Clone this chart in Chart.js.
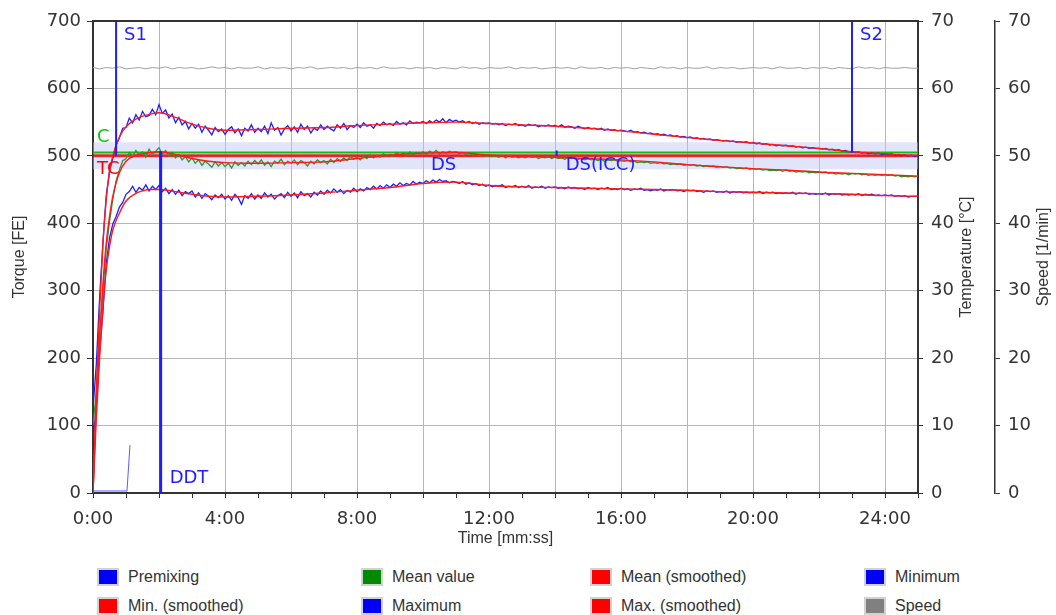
<!DOCTYPE html>
<html>
<head>
<meta charset="utf-8">
<title>Torque / time</title>
<script src="https://cdn.jsdelivr.net/npm/chart.js@4/dist/chart.umd.min.js"></script>
<style>
  body { margin: 0; background: #fff; }
  #wrap { position: relative; width: 1056px; height: 615px; overflow: hidden; }
  #torqueChart { position: absolute; left: 0; top: 0; }
  .legend-item {
    position: absolute; display: flex; align-items: center; height: 18px;
    font: 16px "Liberation Sans", Arial, sans-serif; color: #333; white-space: nowrap;
  }
  .legend-item .box { width: 18px; height: 14px; border: 2px solid #d2d2d2; margin-right: 9px; }
</style>
</head>
<body>
<div id="wrap">
  <canvas id="torqueChart" width="1056" height="555"></canvas>
  <div id="legend"></div>
</div>
<script>
// raw channels are sampled every 0.1 min, speed every 0.2 min
const rawStep = 0.1;
const speedStep = 0.2;

const maxRaw = [
  125, 190, 290, 370, 440, 478, 496, 516, 527, 541,
  542, 556, 549, 561, 553, 566, 558, 560, 569, 561,
  576, 563, 568, 556, 562, 549, 557, 546, 551, 540,
  548, 541, 547, 535, 544, 538, 531, 542, 536, 540,
  532, 539, 543, 534, 540, 530, 541, 537, 546, 535,
  541, 536, 544, 533, 549, 538, 542, 531, 540, 545,
  537, 543, 535, 547, 539, 544, 534, 541, 538, 546,
  539, 544, 540, 537, 546, 541, 548, 539, 545, 542,
  547, 542, 549, 544, 546, 541, 548, 545, 550, 546,
  548, 545, 551, 547, 549, 546, 552, 548, 550, 549,
  551, 548, 552, 549, 553, 550, 555, 549, 554, 551,
  553, 550, 552, 549, 551, 548, 550, 547, 549, 548,
  549, 547, 548, 546, 548, 545, 547, 546, 548, 545,
  546, 544, 547, 545, 546, 543, 545, 544, 546, 544,
  545, 543, 546, 542, 544, 543, 541, 544, 542, 540,
  542, 540, 541, 539, 541, 538, 540, 538, 539, 537,
  538, 537, 536, 538, 535, 536, 534, 535, 533, 534,
  532, 533, 531, 532, 530, 531, 529, 530, 528, 529,
  527, 528, 526, 527, 525, 526, 524, 525, 523, 524,
  523, 522, 523, 521, 522, 520, 521, 520, 521, 519,
  520, 518, 519, 517, 518, 516, 517, 515, 516, 515,
  516, 514, 515, 513, 514, 512, 513, 511, 512, 511,
  511, 510, 511, 509, 510, 508, 509, 507, 508, 506,
  506, 505, 506, 504, 505, 503, 504, 503, 504, 502,
  503, 502, 503, 501, 502, 500, 501, 500, 501, 499,
  500
];

const meanRaw = [
  100, 150, 230, 300, 362, 402, 436, 463, 479, 493,
  496, 505, 499, 508, 501, 506, 498, 510, 502, 507,
  512, 503, 508, 500, 505, 497, 502, 494, 499, 491,
  497, 489, 494, 486, 492, 488, 483, 491, 485, 490,
  484, 489, 482, 491, 486, 490, 485, 492, 487, 493,
  488, 494, 486, 491, 484, 492, 489, 495, 487, 492,
  489, 494, 487, 493, 490, 485, 492, 488, 494, 490,
  493, 488, 495, 490, 496, 492, 497, 493, 499, 495,
  498, 494, 500, 496, 502, 497, 501, 498, 503, 500,
  502, 499, 505, 501, 504, 500, 506, 502, 505, 503,
  506, 502, 507, 504, 508, 503, 506, 504, 507, 505,
  506, 503, 505, 502, 504, 501, 503, 500, 502, 499,
  501, 499, 500, 498, 501, 497, 500, 498, 499, 497,
  499, 497, 500, 498, 499, 496, 498, 497, 499, 496,
  498, 496, 497, 495, 498, 496, 497, 495, 496, 494,
  496, 494, 495, 493, 495, 492, 494, 493, 494, 492,
  493, 492, 493, 491, 492, 490, 491, 490, 491, 489,
  490, 489, 490, 488, 489, 487, 488, 487, 488, 486,
  487, 486, 487, 485, 486, 484, 485, 484, 485, 483,
  484, 483, 484, 482, 483, 481, 482, 481, 482, 480,
  481, 480, 481, 479, 480, 478, 479, 478, 479, 477,
  479, 477, 478, 476, 477, 476, 477, 475, 476, 475,
  476, 475, 476, 474, 475, 473, 474, 473, 474, 472,
  474, 473, 474, 472, 473, 471, 472, 471, 472, 471,
  472, 471, 472, 470, 471, 469, 470, 469, 470, 469,
  470
];

const minRaw = [
  75, 130, 210, 268, 340, 378, 399, 410, 424, 431,
  443, 447, 455, 446, 453, 449, 457, 448, 455, 450,
  456, 447, 452, 444, 450, 443, 449, 441, 447, 444,
  448, 439, 445, 437, 444, 440, 435, 442, 438, 443,
  436, 441, 434, 443, 438, 428, 441, 437, 444, 436,
  442, 437, 445, 439, 443, 436, 441, 444, 438, 446,
  440, 445, 438, 447, 441, 444, 439, 446, 442, 448,
  443, 449, 445, 451, 446, 450, 444, 449, 446, 452,
  447, 451, 448, 453, 450, 455, 451, 456, 452, 457,
  453, 458, 455, 460, 456, 459, 457, 462, 458, 461,
  459, 463, 460, 464, 461, 465, 462, 463, 460, 462,
  461, 459, 462, 458, 460, 457, 459, 456, 458, 455,
  457, 454, 456, 455, 457, 453, 455, 454, 456, 453,
  455, 453, 456, 452, 454, 453, 455, 452, 454, 453,
  454, 452, 453, 451, 454, 452, 453, 451, 452, 450,
  453, 451, 452, 450, 452, 451, 453, 450, 451, 450,
  452, 450, 451, 449, 451, 450, 452, 449, 450, 448,
  450, 449, 451, 448, 450, 449, 450, 448, 449, 447,
  449, 448, 449, 447, 448, 446, 448, 447, 448, 446,
  447, 446, 448, 445, 447, 446, 447, 445, 446, 445,
  446, 445, 447, 444, 446, 445, 446, 444, 445, 444,
  445, 444, 446, 443, 445, 444, 445, 443, 444, 443,
  444, 443, 445, 442, 444, 443, 444, 442, 443, 442,
  443, 442, 444, 441, 443, 442, 443, 441, 442, 441,
  442, 441, 442, 440, 441, 440, 441, 439, 440, 440,
  440
];

// smoothed curves
const smoothTimes = [0, 0.1, 0.2, 0.3, 0.4, 0.5, 0.6, 0.8, 1, 1.25, 1.5, 1.75, 2, 2.5, 3, 3.5,
  4, 5, 6, 7, 8, 9, 10, 11, 12, 13, 14, 15, 16, 17, 18, 19, 20, 21, 22, 23, 24, 25];
const maxSmooth = [0, 150, 270, 370, 435, 475, 500, 528, 543, 553, 559, 562, 564, 557, 547, 541,
  538, 539, 541, 542, 545, 547, 549, 550, 548, 546, 544, 541, 537, 532, 527, 523, 519, 515, 511, 506, 503, 500];
const meanSmooth = [0, 130, 230, 310, 370, 410, 440, 475, 492, 500, 503, 505, 506, 502, 496, 492,
  490, 489, 490, 491, 496, 501, 504, 505, 501, 499, 498, 496, 494, 491, 487, 484, 481, 479, 476, 474, 472, 470];
const minSmooth = [0, 110, 200, 275, 330, 365, 390, 415, 433, 443, 448, 450, 450, 447, 443, 440,
  439, 440, 442, 445, 449, 453, 459, 461, 456, 454, 453, 452, 451, 450, 449, 447, 446, 445, 444, 443, 441, 440];

const premixTimes = [0, 1.03, 1.12];
const premixTorque = [3, 3, 71];

const speedRaw = [
  63.1, 62.9, 63.1, 63.0, 63.2, 62.9, 63.0, 63.1, 62.9, 63.1,
  63.0, 63.2, 62.9, 63.1, 63.0, 63.1, 62.9, 63.0, 63.2, 63.0,
  63.1, 62.9, 63.1, 63.0, 63.0, 63.2, 62.9, 63.1, 63.0, 63.1,
  62.9, 63.1, 63.0, 63.2, 62.9, 63.0, 63.1, 63.0, 63.1, 62.9,
  63.1, 63.0, 63.1, 62.9, 63.2, 63.0, 63.0, 63.1, 62.9, 63.1,
  63.0, 63.1, 62.9, 63.1, 63.0, 62.9, 63.2, 63.0, 63.1, 62.9,
  63.1, 63.0, 63.0, 63.2, 62.9, 63.1, 63.0, 63.1, 62.9, 63.0,
  63.1, 63.0, 63.1, 62.9, 63.2, 63.0, 63.0, 63.1, 62.9, 63.1,
  63.0, 63.1, 62.9, 63.1, 63.0, 62.9, 63.2, 63.0, 63.1, 62.9,
  63.1, 63.0, 63.0, 63.2, 62.9, 63.1, 63.0, 63.1, 62.9, 63.0,
  63.1, 63.0, 63.1, 62.9, 63.2, 63.0, 63.0, 63.1, 62.9, 63.1,
  63.0, 63.1, 62.9, 63.1, 63.0, 62.9, 63.2, 63.0, 63.1, 62.9,
  63.1, 63.0, 63.0, 63.1, 63.0, 63.0
];

// reference levels and events (minutes / FE)
const endTime = 25;
const toleranceBand = [480, 520];
const cLevel = 505;
const tcLevel = 500;
const s1 = [0.7, 500];
const s2 = [23.0, 505];
const ddt = [2.05, 507];
const dsTime = 10.0;
const dsIcc = [14.05, 500, 508];

const xTicks = [0, 4, 8, 12, 16, 20, 24];

const BLUE = '#1e1eff';
const RED = '#ff1a1a';
const GREEN = '#2a9a2a';
const DARK = '#333333';
const GRID = '#b6b6b6';

const sampled = (arr, step) => arr.map((v, i) => ({ x: +(i * step).toFixed(2), y: v }));
const paired = (xs, ys) => xs.map((x, i) => ({ x: x, y: ys[i] }));
const seg = (x0, y0, x1, y1) => [{ x: x0, y: y0 }, { x: x1, y: y1 }];

const lineDefaults = { pointRadius: 0, fill: false, tension: 0, yAxisID: 'y' };

const datasets = [
  // markers on top
  Object.assign({}, lineDefaults, { label: 'S1', data: seg(s1[0], 700, s1[0], s1[1]), borderColor: BLUE, borderWidth: 2 }),
  Object.assign({}, lineDefaults, { label: 'S2', data: seg(s2[0], 700, s2[0], s2[1]), borderColor: BLUE, borderWidth: 2 }),
  Object.assign({}, lineDefaults, { label: 'DDT', data: seg(ddt[0], ddt[1], ddt[0], 0), borderColor: BLUE, borderWidth: 3 }),
  Object.assign({}, lineDefaults, { label: 'DS(ICC)', data: seg(dsIcc[0], dsIcc[1], dsIcc[0], dsIcc[2]), borderColor: BLUE, borderWidth: 2 }),
  // smoothed
  Object.assign({}, lineDefaults, { label: 'Max. (smoothed)', data: paired(smoothTimes, maxSmooth), borderColor: RED, borderWidth: 1.4, tension: 0.4, cubicInterpolationMode: 'monotone' }),
  Object.assign({}, lineDefaults, { label: 'Mean (smoothed)', data: paired(smoothTimes, meanSmooth), borderColor: RED, borderWidth: 1.4, tension: 0.4, cubicInterpolationMode: 'monotone' }),
  Object.assign({}, lineDefaults, { label: 'Min. (smoothed)', data: paired(smoothTimes, minSmooth), borderColor: RED, borderWidth: 1.4, tension: 0.4, cubicInterpolationMode: 'monotone' }),
  // raw
  Object.assign({}, lineDefaults, { label: 'Maximum', data: sampled(maxRaw, rawStep), borderColor: BLUE, borderWidth: 1.3 }),
  Object.assign({}, lineDefaults, { label: 'Mean value', data: sampled(meanRaw, rawStep), borderColor: GREEN, borderWidth: 1.3 }),
  Object.assign({}, lineDefaults, { label: 'Minimum', data: sampled(minRaw, rawStep), borderColor: BLUE, borderWidth: 1.3 }),
  Object.assign({}, lineDefaults, { label: 'Premixing', data: paired(premixTimes, premixTorque), borderColor: '#5a5aff', borderWidth: 1 }),
  // reference levels
  Object.assign({}, lineDefaults, { label: 'TC', data: seg(0, tcLevel, endTime, tcLevel), borderColor: 'rgba(225,0,0,0.8)', borderWidth: 3 }),
  Object.assign({}, lineDefaults, { label: 'C', data: seg(0, cLevel, endTime, cLevel), borderColor: '#10c010', borderWidth: 2 }),
  Object.assign({}, lineDefaults, { label: 'Speed', data: sampled(speedRaw, speedStep), borderColor: '#a0a0a0', borderWidth: 1, yAxisID: 'speed' }),
  Object.assign({}, lineDefaults, { label: 'band', data: seg(0, toleranceBand[1], endTime, toleranceBand[1]),
    borderWidth: 0, borderColor: 'rgba(0,0,0,0)', backgroundColor: 'rgba(190,195,245,0.45)', fill: { value: toleranceBand[0] } })
];

// frame top edge, event labels and the right-hand axis titles
const annotations = {
  id: 'annotations',
  afterDatasetsDraw(chart) {
    const { ctx, chartArea: area, scales } = chart;
    const x = scales.x, y = scales.y;
    ctx.save();
    ctx.strokeStyle = DARK;
    ctx.lineWidth = 2;
    ctx.beginPath();
    ctx.moveTo(area.left - 1, area.top);
    ctx.lineTo(area.right + 1, area.top);
    ctx.stroke();

    ctx.font = '18px "DejaVu Sans"';
    ctx.textBaseline = 'middle';
    ctx.textAlign = 'left';
    ctx.fillStyle = BLUE;
    ctx.fillText('S1', x.getPixelForValue(s1[0]) + 8, area.top + 14);
    ctx.fillText('S2', x.getPixelForValue(s2[0]) + 8, area.top + 14);
    ctx.fillText('DDT', x.getPixelForValue(ddt[0]) + 9, area.bottom - 15);
    ctx.fillText('DS', x.getPixelForValue(dsTime) + 8, y.getPixelForValue(tcLevel) + 9);
    ctx.fillText('DS(ICC)', x.getPixelForValue(dsIcc[0]) + 9, y.getPixelForValue(tcLevel) + 9);
    ctx.fillStyle = '#10c010';
    ctx.fillText('C', area.left + 4, y.getPixelForValue(cLevel) - 15);
    ctx.fillStyle = '#ff0000';
    ctx.fillText('TC', area.left + 4, y.getPixelForValue(tcLevel) + 13);

    ctx.font = '16px "Liberation Sans", Arial, sans-serif';
    ctx.fillStyle = DARK;
    ctx.textAlign = 'center';
    const midY = (area.top + area.bottom) / 2;
    [['temp', 'Temperature [°C]'], ['speed', 'Speed [1/min]']].forEach(([id, text]) => {
      ctx.save();
      ctx.translate(scales[id].left + 49, midY);
      ctx.rotate(-Math.PI / 2);
      ctx.fillText(text, 0, 0);
      ctx.restore();
    });
    ctx.restore();
  }
};

const tickFont = { family: 'DejaVu Sans', size: 18 };
const titleFont = { family: 'Liberation Sans', size: 16 };

const sideAxis = (weight, width) => ({
  position: 'right', weight: weight, min: 0, max: 70,
  ticks: { stepSize: 10, font: tickFont, color: DARK, padding: 8 },
  grid: { drawOnChartArea: false, tickColor: DARK, tickLength: 5 },
  border: { color: DARK, width: weight === 0 ? 2 : 1.5 },
  afterFit: s => { s.width = width; }
});

new Chart(document.getElementById('torqueChart'), {
  type: 'line',
  data: { datasets: datasets },
  options: {
    responsive: false,
    animation: false,
    events: [],
    layout: { padding: { top: 21, right: 0, bottom: 0, left: 0 } },
    plugins: { legend: { display: false }, tooltip: { enabled: false } },
    scales: {
      x: {
        type: 'linear', min: 0, max: endTime,
        ticks: {
          stepSize: 1, autoSkip: false, maxRotation: 0, font: tickFont, color: DARK, padding: 11,
          callback: v => (xTicks.includes(v) ? v + ':00' : '')
        },
        grid: {
          color: c => (c.tick && c.tick.value % 2 === 0 ? GRID : 'rgba(0,0,0,0)'),
          tickColor: DARK, tickLength: 5
        },
        border: { color: DARK, width: 2 },
        title: { display: true, text: 'Time [mm:ss]', font: titleFont, color: DARK, padding: { top: 0, bottom: 7 } },
        afterFit: s => { s.height = 62; }
      },
      y: {
        position: 'left', min: 0, max: 700,
        ticks: { stepSize: 100, font: tickFont, color: DARK, padding: 6 },
        grid: { color: GRID, tickColor: DARK, tickLength: 6 },
        border: { color: DARK, width: 2 },
        title: { display: true, text: 'Torque [FE]', font: titleFont, color: DARK, padding: { top: 10, bottom: 0 } },
        afterFit: s => { s.width = 93; }
      },
      temp: sideAxis(0, 77),
      speed: sideAxis(1, 61)
    }
  },
  plugins: [annotations]
});

// legend below the chart, four columns
const legendNames = ['Premixing', 'Mean value', 'Mean (smoothed)', 'Minimum',
  'Min. (smoothed)', 'Maximum', 'Max. (smoothed)', 'Speed'];
const legendColors = ['#0000ff', '#008a00', '#ff0000', '#0000ff',
  '#ff0000', '#0000ff', '#ff0000', '#808080'];
const legendCols = [97, 361, 590, 864];
const legendRows = [568, 597];
const legend = document.getElementById('legend');
legendNames.forEach((name, i) => {
  const item = document.createElement('div');
  item.className = 'legend-item';
  item.style.left = legendCols[i % 4] + 'px';
  item.style.top = legendRows[Math.floor(i / 4)] + 'px';
  item.innerHTML = '<span class="box" style="background:' + legendColors[i] + '"></span>' + name;
  legend.appendChild(item);
});
</script>
</body>
</html>
